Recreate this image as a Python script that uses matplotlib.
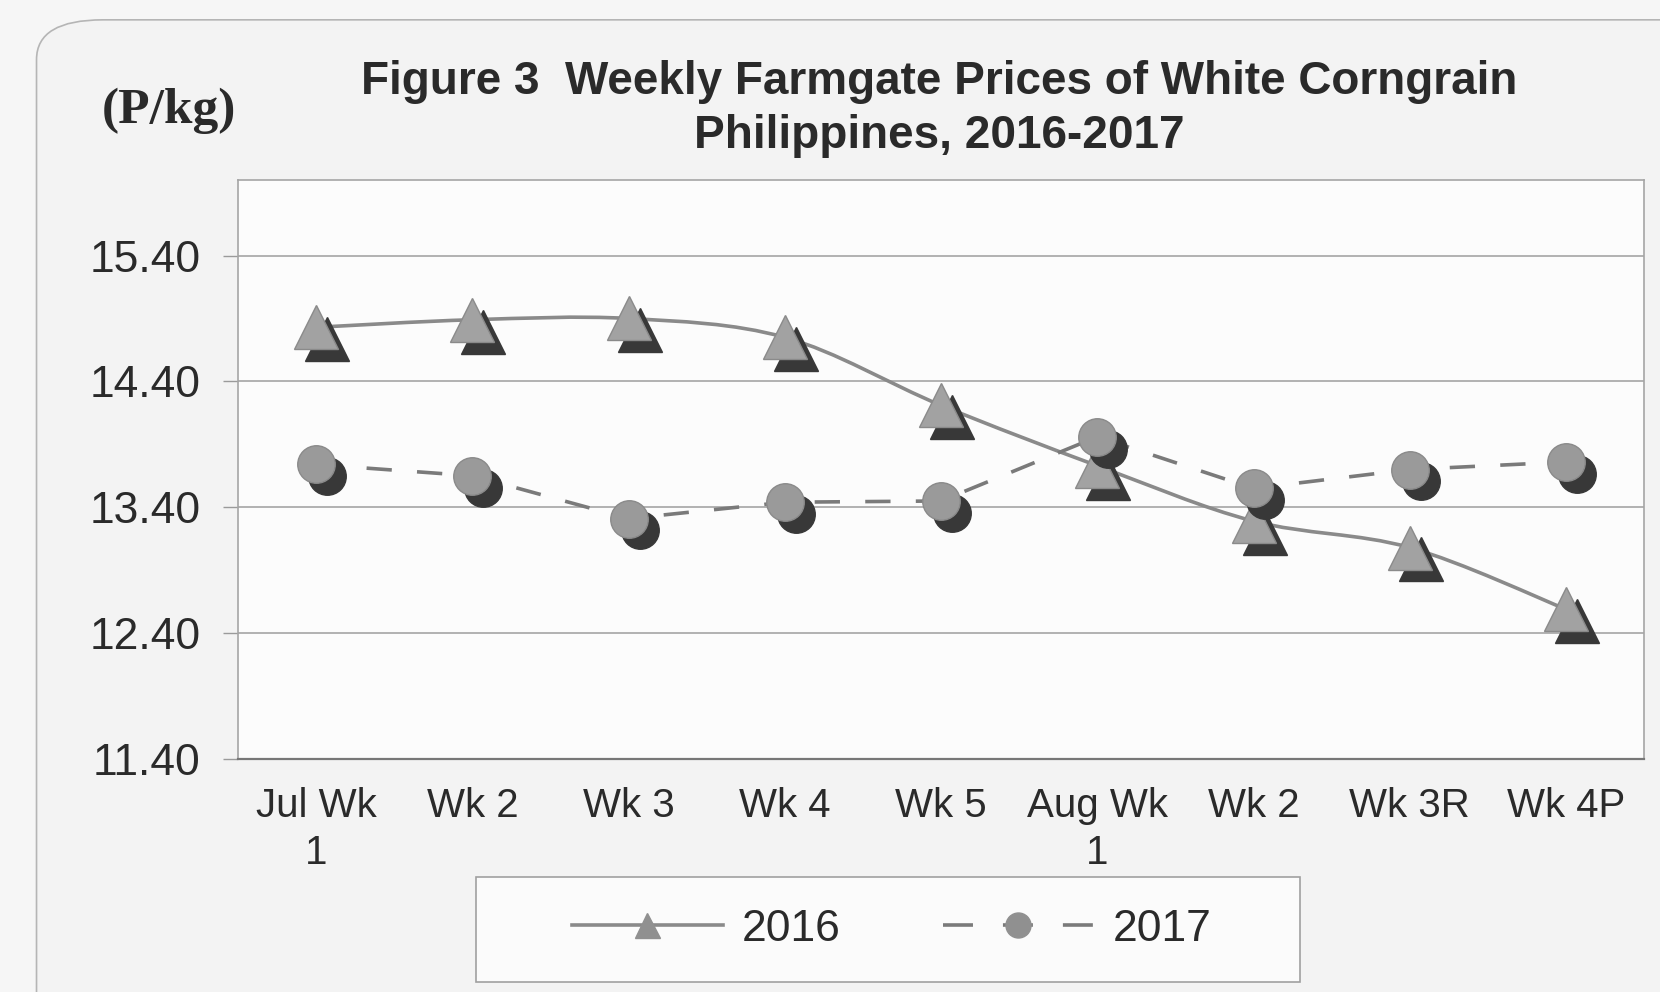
import numpy as np
import matplotlib
matplotlib.use('Agg')
import matplotlib.pyplot as plt
from matplotlib.path import Path
from matplotlib.patches import PathPatch, FancyBboxPatch, Rectangle
from matplotlib.lines import Line2D
from matplotlib.transforms import offset_copy

weeks = ['Jul Wk\n1', 'Wk 2', 'Wk 3', 'Wk 4', 'Wk 5', 'Aug Wk\n1', 'Wk 2', 'Wk 3R', 'Wk 4P']
prices_2016 = [14.83, 14.89, 14.90, 14.75, 14.21, 13.73, 13.29, 13.08, 12.59]
prices_2017 = [13.74, 13.65, 13.31, 13.44, 13.45, 13.96, 13.55, 13.70, 13.76]
y_ticks = [11.40, 12.40, 13.40, 14.40, 15.40]

plt.rcParams['font.family'] = ['Liberation Sans', 'DejaVu Sans']

fig = plt.figure(figsize=(16.6, 9.92), dpi=100, facecolor='#f6f6f6')

# rounded chart-area border like the scanned Excel chart
fig.patches.append(FancyBboxPatch((0.022, -0.05), 1.2, 1.03, boxstyle='round,pad=0,rounding_size=0.04',
                                  transform=fig.transFigure, facecolor='#f3f3f3', edgecolor='#b5b5b5',
                                  lw=1.2, zorder=-2))

ax = fig.add_axes([0.1434, 0.2349, 0.847, 0.5836])
ax.set_zorder(1)
ax.set_facecolor('#fcfcfc')
x = np.arange(len(weeks))


def smooth_path(xs, ys):
    # Excel-like smoothed line: cubic bezier through every point
    pts = np.column_stack([xs, ys])
    ext = np.vstack([pts[0], pts, pts[-1]])
    verts = [pts[0]]
    codes = [Path.MOVETO]
    for i in range(len(pts) - 1):
        p0, p1, p2, p3 = ext[i], ext[i + 1], ext[i + 2], ext[i + 3]
        verts += [p1 + (p2 - p0) / 6, p2 - (p3 - p1) / 6, p2]
        codes += [Path.CURVE4] * 3
    return Path(verts, codes)


ax.add_patch(PathPatch(smooth_path(x, prices_2016), fill=False, edgecolor='#8a8a8a', lw=2.6, zorder=3))
ax.plot(x, prices_2017, color='#7a7a7a', lw=2.6, dashes=(7, 7), zorder=3)

shadow = offset_copy(ax.transData, fig=fig, x=8, y=-8.5, units='points')
ax.plot(x, prices_2016, ls='none', marker='^', ms=32, color='#383838', transform=shadow, zorder=4)
ax.plot(x, prices_2016, ls='none', marker='^', ms=32, color='#a2a2a2', mec='#8a8a8a', mew=1, zorder=5)
ax.plot(x, prices_2017, ls='none', marker='o', ms=27, color='#383838', transform=shadow, zorder=6)
ax.plot(x, prices_2017, ls='none', marker='o', ms=27, color='#9a9a9a', mec='#8a8a8a', mew=1, zorder=7)

ax.set_xlim(-0.5, len(weeks) - 0.5)
ax.set_ylim(11.4, 16.0)
ax.set_yticks(y_ticks)
ax.set_yticklabels([f'{v:.2f}' for v in y_ticks], fontsize=32, color='#2a2a2a')
ax.set_xticks(x)
ax.set_xticklabels(weeks, fontsize=29, color='#2a2a2a', linespacing=1.3)
ax.tick_params(axis='y', direction='out', length=11, width=1, color='#9a9a9a', pad=16)
ax.tick_params(axis='x', length=0, pad=20)
ax.grid(axis='y', color='#a5a5a5', lw=1.2)
ax.set_axisbelow(True)
for side in ['top', 'right', 'left']:
    ax.spines[side].set_color('#a5a5a5')
    ax.spines[side].set_linewidth(1.2)
ax.spines['bottom'].set_color('#777777')
ax.spines['bottom'].set_linewidth(1.6)

fig.text(0.566, 0.917, 'Figure 3  Weekly Farmgate Prices of White Corngrain',
         ha='center', va='center', fontsize=33, fontweight='bold', color='#2a2a2a')
fig.text(0.566, 0.863, 'Philippines, 2016-2017',
         ha='center', va='center', fontsize=33, fontweight='bold', color='#2a2a2a')
fig.text(0.102, 0.888, '(P/kg)', ha='center', va='center', fontsize=37, fontweight='bold',
         family='Liberation Serif', color='#2a2a2a')

# legend box
fig.patches.append(Rectangle((0.287, 0.010), 0.496, 0.106, transform=fig.transFigure,
                             facecolor='#fbfbfb', edgecolor='#a0a0a0', lw=1.2, zorder=1))
handles = [Line2D([], [], color='#8a8a8a', lw=2.6, marker='^', ms=18, mfc='#909090', mec='#909090'),
           Line2D([], [], color='#7a7a7a', lw=2.6, dashes=(8.3, 8.3), marker='o', ms=18, mfc='#909090', mec='#909090')]
fig.legend(handles, ['2016', '2017'], loc='center', bbox_to_anchor=(0.537, 0.063), ncol=2,
           frameon=False, fontsize=32, handlelength=3.4, handletextpad=0.42, columnspacing=2.3,
           labelcolor='#2a2a2a')

plt.savefig('out.png', dpi=100, facecolor=fig.get_facecolor())
